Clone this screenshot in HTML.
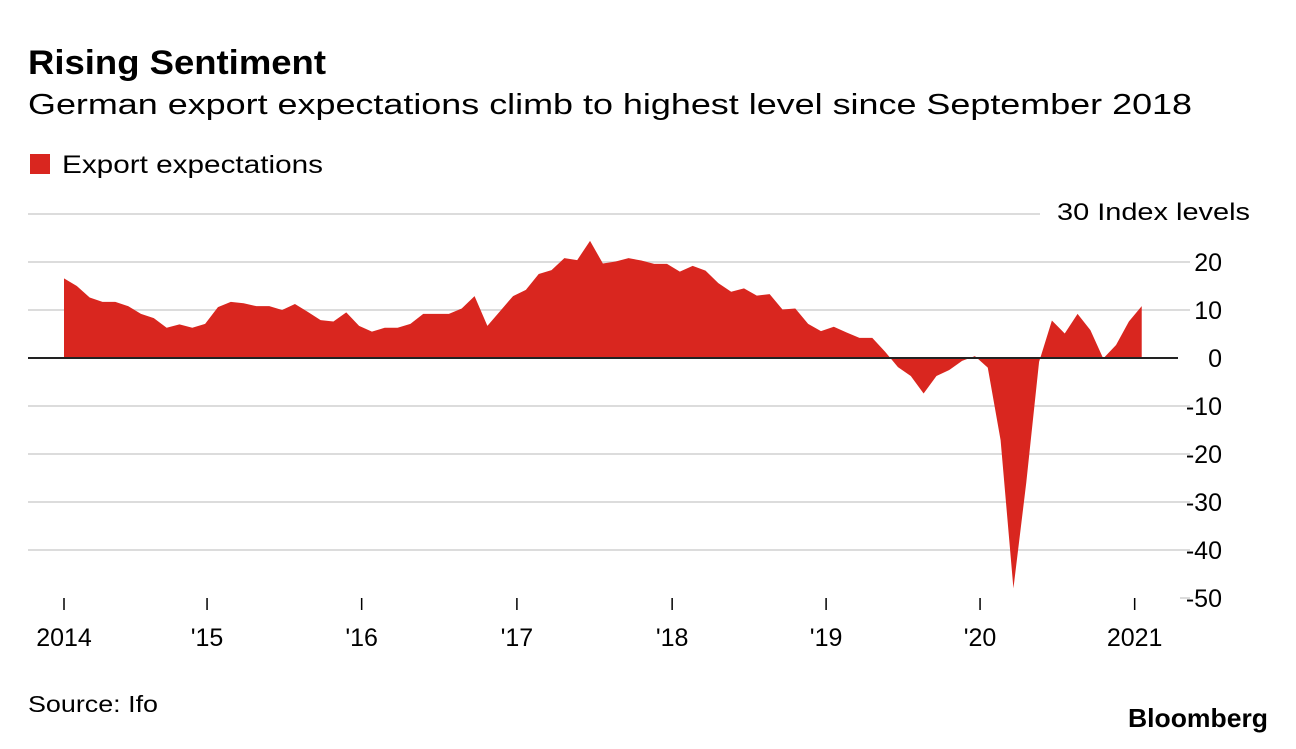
<!DOCTYPE html>
<html><head><meta charset="utf-8"><style>
body{margin:0;background:#fff;width:1296px;height:744px;overflow:hidden;font-family:"Liberation Sans",Arial,sans-serif}
</style></head><body>
<svg width="1296" height="744" font-family="Liberation Sans, Arial, sans-serif">
<text x="28" y="74" font-size="34" font-weight="bold" fill="#000" textLength="298" lengthAdjust="spacingAndGlyphs">Rising Sentiment</text>
<text x="28" y="114" font-size="29" fill="#000" textLength="1164" lengthAdjust="spacingAndGlyphs">German export expectations climb to highest level since September 2018</text>
<rect x="30" y="154" width="20" height="20" fill="#d9261f"/>
<text x="62" y="173" font-size="25" fill="#000" textLength="261" lengthAdjust="spacingAndGlyphs">Export expectations</text>
<g id="grid"></g>
<path id="area" fill="#d9261f"/>
<line id="zero" stroke="#222" stroke-width="2"/>
<g id="yt"></g>
<g id="xt"></g>
<text x="1057" y="220" font-size="24" textLength="193" lengthAdjust="spacingAndGlyphs">30 Index levels</text>
<text x="28" y="712" font-size="23" textLength="130" lengthAdjust="spacingAndGlyphs">Source: Ifo</text>
<text x="1128" y="727" font-size="26" font-weight="bold" textLength="140" lengthAdjust="spacingAndGlyphs">Bloomberg</text>
</svg>
<script>
const values=[16.6,15.0,12.6,11.7,11.7,10.8,9.2,8.3,6.3,7.0,6.3,7.1,10.6,
11.7,11.4,10.8,10.8,10.0,11.25,9.6,7.9,7.6,9.5,6.7,
5.5,6.3,6.3,7.1,9.2,9.2,9.2,10.3,12.9,6.7,9.8,12.9,
14.2,17.5,18.3,20.8,20.4,24.4,19.7,20.1,20.8,20.3,19.6,19.6,
18.0,19.2,18.2,15.6,13.8,14.5,13.0,13.3,10.1,10.3,7.1,5.6,
6.5,5.3,4.2,4.2,1.3,-1.9,-3.75,-7.4,-3.75,-2.5,-0.6,0.4,
-2.0,-17.1,-48.0,-26,-0.8,7.8,5.1,9.2,5.8,-0.1,2.7,7.6,10.8];
const yTicks=[20,10,0,-10,-20,-30,-40,-50];
const xTickLabels=["2014","'15","'16","'17","'18","'19","'20","2021"];
const xTickMonths=[0,11.15,23.2,35.3,47.4,59.4,71.4,83.45];
const NS="http://www.w3.org/2000/svg";
const X=i=>64+i*12.83, Y=v=>358-v*4.8;
function el(t,a,p){const e=document.createElementNS(NS,t);for(const k in a)e.setAttribute(k,a[k]);p.appendChild(e);return e;}
const grid=document.getElementById('grid'),yt=document.getElementById('yt'),xt=document.getElementById('xt');
[30].concat(yTicks).forEach(v=>{if(v===0)return;
const l=el('line',{x1:v===-50?1180:28,x2:v===30?1040:1190,y1:Y(v),y2:Y(v),stroke:'#dcdcdc','stroke-width':2},grid);

});
yTicks.forEach(v=>{const t=el('text',{x:1222,y:Y(v)+9,'font-size':25,'text-anchor':'end'},yt);t.textContent=v;

});
xTickMonths.forEach((m,i)=>{const l=el('line',{x1:X(m),x2:X(m),y1:598,y2:610,stroke:'#000','stroke-width':1.5},xt);


const t=el('text',{x:X(m),y:646,'font-size':25,'text-anchor':'middle'},xt);t.textContent=xTickLabels[i];

});
let d='M'+X(0)+','+Y(0);values.forEach((v,i)=>d+='L'+X(i)+','+Y(v));d+='L'+X(values.length-1)+','+Y(0)+'Z';
document.getElementById('area').setAttribute('d',d);
const z=document.getElementById('zero');z.setAttribute('x1',28);z.setAttribute('x2',1178);z.setAttribute('y1',Y(0));z.setAttribute('y2',Y(0));
</script>
</body></html>
